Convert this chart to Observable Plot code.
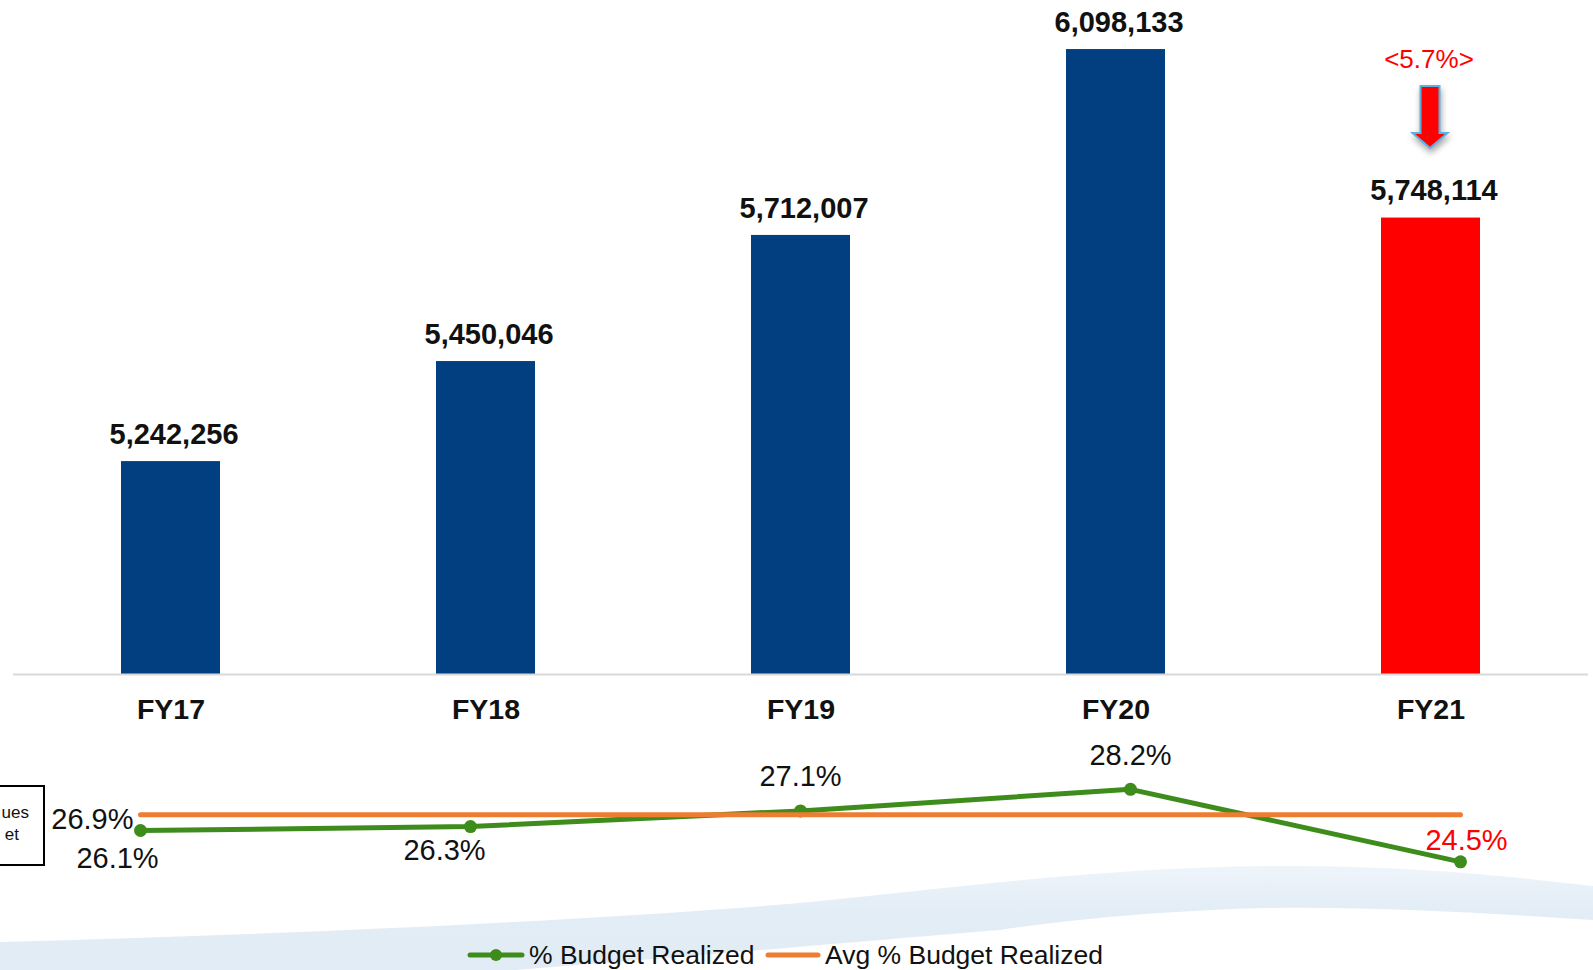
<!DOCTYPE html>
<html>
<head>
<meta charset="utf-8">
<script src="https://cdn.jsdelivr.net/npm/d3@7"></script>
<script src="https://cdn.jsdelivr.net/npm/@observablehq/plot@0.6"></script>
<style>
  html, body { margin: 0; padding: 0; background: #fff; }
  body { font-family: "Liberation Sans", Arial, sans-serif; }
  #wrap { position: relative; width: 1593px; height: 970px; overflow: hidden; background: #fff; }
  #wave { position: absolute; left: 0; top: 0; z-index: 0; }
  #bars { position: absolute; left: 0; top: 0; z-index: 1; }
  #lines { position: absolute; left: 0; top: 730px; z-index: 2; }
  #legend { position: absolute; left: 0; top: 937px; width: 1593px; height: 36px; z-index: 3;
            font-size: 26.5px; color: #111; }
  #legend .item { position: absolute; top: 0; display: flex; align-items: center; height: 36px; white-space: nowrap; }
  #legend svg { display: block; margin-right: 3px; }
  #box { position: absolute; left: -30px; top: 785px; width: 71px; height: 77px; border: 2px solid #000;
         z-index: 3; font-size: 17px; color: #111; background: transparent; }
  #box .l1 { position: absolute; right: 14px; top: 16px; }
  #box .l2 { position: absolute; right: 24px; top: 38px; }
</style>
</head>
<body>
<div id="wrap">
  <svg id="wave" width="1593" height="970">
    <defs>
      <linearGradient id="wg" x1="0" y1="0" x2="0" y2="1">
        <stop offset="0" stop-color="#eef4fa"/>
        <stop offset="0.35" stop-color="#e3edf6"/>
        <stop offset="1" stop-color="#e1ebf5"/>
      </linearGradient>
    </defs>
    <path d="M0,942 C300,934 600,920 800,903 C950,888 1100,868 1265,866 C1420,865 1520,878 1593,886 L1593,920 C1500,914 1380,906 1265,908 C1150,911 1050,922 1000,930 C900,938 700,956 450,975 L0,992 Z" fill="url(#wg)"/>
  </svg>
  <div id="bars"></div>
  <div id="lines"></div>
  <div id="box"><span class="l1">ues</span><span class="l2">et</span></div>
  <div id="legend">
    <div class="item" style="left:466px">
      <svg width="60" height="14"><line x1="4" y1="7" x2="56" y2="7" stroke="#3e8c1c" stroke-width="5" stroke-linecap="round"/><circle cx="30" cy="7" r="6" fill="#3e8c1c"/></svg>
      <span>% Budget Realized</span>
    </div>
    <div class="item" style="left:764px">
      <svg width="58" height="14"><line x1="4" y1="7" x2="54" y2="7" stroke="#ed7d31" stroke-width="5" stroke-linecap="round"/></svg>
      <span>Avg % Budget Realized</span>
    </div>
  </div>
</div>
<script>
// ---- data ----
const years = ["FY17", "FY18", "FY19", "FY20", "FY21"];
const revenues = [5242256, 5450046, 5712007, 6098133, 5748114];
const pctRealized = [26.1, 26.3, 27.1, 28.2, 24.5];
const avgPctRealized = 26.9;
const highlightYear = "FY21";
const changeLabel = "<5.7%>";
const yBase = 4800000;
const yTop = 6200000;

// ---- derived tables ----
const barData = years.map((year, i) => ({year, value: revenues[i]}));
const lineData = years.map((year, i) => ({year, pct: pctRealized[i]}));
const annot = barData.filter(d => d.year === highlightYear).map(d => ({...d, label: changeLabel}));

const BLUE = "#023f80", RED = "#ff0000", GREEN = "#3e8c1c", ORANGE = "#ed7d31";
const FONT = '"Liberation Sans", Arial, sans-serif';
const fmt = d3.format(",");

const arrowSymbol = {
  draw(ctx) {
    ctx.moveTo(-9.5, -31);
    ctx.lineTo(9.5, -31);
    ctx.lineTo(9.5, 16);
    ctx.lineTo(17.5, 16);
    ctx.lineTo(0, 31);
    ctx.lineTo(-17.5, 16);
    ctx.lineTo(-9.5, 16);
    ctx.closePath();
  }
};

const bars = Plot.plot({
  width: 1593,
  height: 730,
  marginLeft: 13,
  marginRight: 5,
  marginTop: 0,
  marginBottom: 56,
  x: {domain: years, paddingInner: 0.686, paddingOuter: 0.343, tickSize: 0, tickPadding: 24, label: null},
  y: {domain: [yBase, yTop], axis: null},
  style: {background: "transparent", fontFamily: FONT, fontSize: "28.5px", fontWeight: "bold", color: "#111", overflow: "visible"},
  marks: [
    Plot.barY(barData, {x: "year", y1: yBase, y2: "value", fill: d => d.year === highlightYear ? RED : BLUE}),
    Plot.ruleY([yBase], {stroke: "#d9d9d9", strokeWidth: 2}),
    Plot.text(barData, {x: "year", y: "value", text: d => fmt(d.value), dy: -27, dx: 3, lineAnchor: "middle", fill: "#111", fontSize: 29}),
    Plot.text(annot, {x: "year", y: "value", text: "label", dy: -158, dx: -2, lineAnchor: "middle", fill: RED, fontSize: 26, fontWeight: "normal"}),
    Plot.dot(annot, {x: "year", y: "value", dy: -101, dx: -1, symbol: arrowSymbol, fill: RED, stroke: "#5cb1e3", strokeWidth: 2})
  ]
});
document.getElementById("bars").appendChild(bars);
bars.querySelectorAll('g[aria-label="dot"] path').forEach(p => p.style.filter = "drop-shadow(1px 4px 3px rgba(0,0,0,0.35))");

const lines = Plot.plot({
  width: 1593,
  height: 200,
  marginLeft: 139,
  marginRight: 132,
  marginTop: 0,
  marginBottom: 0,
  x: {type: "point", domain: years, padding: 0, axis: null},
  y: {domain: [21, 31.2], axis: null},
  style: {background: "transparent", fontFamily: FONT, fontSize: "29px", color: "#111", overflow: "visible"},
  marks: [
    Plot.line(lineData, {x: "year", y: "pct", stroke: GREEN, strokeWidth: 5}),
    Plot.dot(lineData, {x: "year", y: "pct", r: 6.5, fill: GREEN}),
    Plot.line(lineData, {x: "year", y: () => avgPctRealized, stroke: ORANGE, strokeWidth: 5, strokeLinecap: "round"}),
    Plot.text(lineData.slice(0, 1), {x: "year", y: () => avgPctRealized, text: () => avgPctRealized.toFixed(1) + "%", textAnchor: "end", dx: -7, dy: 5, lineAnchor: "middle", fill: "#111"}),
    Plot.text(lineData, {filter: d => d.year === "FY17", x: "year", y: "pct", text: d => d.pct.toFixed(1) + "%", dx: -23, dy: 28, lineAnchor: "middle", fill: "#111"}),
    Plot.text(lineData, {filter: d => d.year === "FY18", x: "year", y: "pct", text: d => d.pct.toFixed(1) + "%", dx: -26, dy: 24, lineAnchor: "middle", fill: "#111"}),
    Plot.text(lineData, {filter: d => d.year === "FY19" || d.year === "FY20", x: "year", y: "pct", text: d => d.pct.toFixed(1) + "%", dy: -34, lineAnchor: "middle", fill: "#111"}),
    Plot.text(lineData, {filter: d => d.year === highlightYear, x: "year", y: "pct", text: d => d.pct.toFixed(1) + "%", dx: 6, dy: -21, lineAnchor: "middle", fill: RED})
  ]
});
document.getElementById("lines").appendChild(lines);
</script>
</body>
</html>
